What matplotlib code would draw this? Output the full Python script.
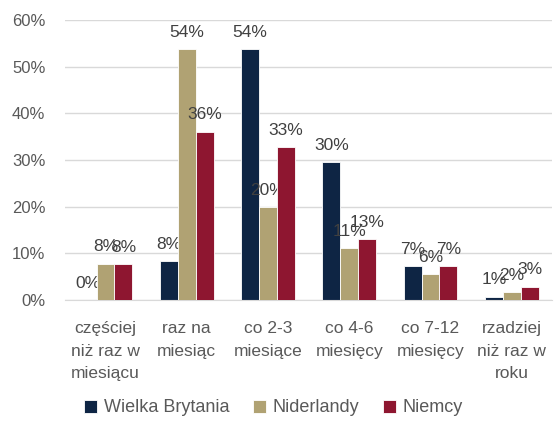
import matplotlib
matplotlib.use('Agg')
import matplotlib.pyplot as plt
import numpy as np

plt.rcParams['font.family'] = ['Liberation Sans', 'DejaVu Sans']

categories = ['częściej\nniż raz w\nmiesiącu', 'raz na\nmiesiąc', 'co 2-3\nmiesiące',
              'co 4-6\nmiesięcy', 'co 7-12\nmiesięcy', 'rzadziej\nniż raz w\nroku']
series = ['Wielka Brytania', 'Niderlandy', 'Niemcy']
uk = [0.0, 8.3, 53.7, 29.6, 7.3, 0.7]
nl = [7.8, 53.7, 19.9, 11.1, 5.5, 1.7]
de = [7.7, 36.1, 32.8, 13.0, 7.3, 2.9]
colors = ['#0E2544', '#B0A273', '#8E1630']

grey = '#595959'
fig = plt.figure(figsize=(5.54, 4.25), dpi=100)
ax = fig.add_axes([0.117, 0.294, 0.88, 0.659])

x = np.arange(len(categories))
w = 0.22
for i, (vals, name, c) in enumerate(zip([uk, nl, de], series, colors)):
    pos = x + (i - 1) * w
    ax.bar(pos, vals, w, color=c, edgecolor='white', linewidth=0.6, label=name, zorder=2 + i)
    for p, v in zip(pos, vals):
        ax.text(p, v + 2.0, '%d%%' % round(v), ha='center', va='bottom',
                fontsize=12.5, color='#404040', zorder=2 + i)

ax.set_ylim(0, 60)
ax.set_xlim(-0.5, len(categories) - 0.5)
ax.set_yticks(range(0, 61, 10))
ax.set_yticklabels(['%d%%' % t for t in range(0, 61, 10)])
ax.set_xticks(x)
ax.set_xticklabels(categories, linespacing=1.65, fontsize=12.5)
ax.tick_params(axis='both', length=0, labelsize=12, labelcolor=grey)
ax.tick_params(axis='x', labelsize=12.5)
ax.tick_params(axis='y', pad=14)
ax.tick_params(axis='x', pad=15)
ax.grid(axis='y', color='#D9D9D9', linewidth=1, zorder=0)
ax.set_axisbelow(True)
for s in ['top', 'right', 'left']:
    ax.spines[s].set_visible(False)
ax.spines['bottom'].set_color('#D9D9D9')

fig.legend(loc='center', bbox_to_anchor=(0.494, 0.04), ncol=3, frameon=False,
           fontsize=13, handlelength=0.7, handleheight=0.7, columnspacing=1.3,
           handletextpad=0.4, labelcolor=grey)

fig.savefig('out.png', dpi=100)
